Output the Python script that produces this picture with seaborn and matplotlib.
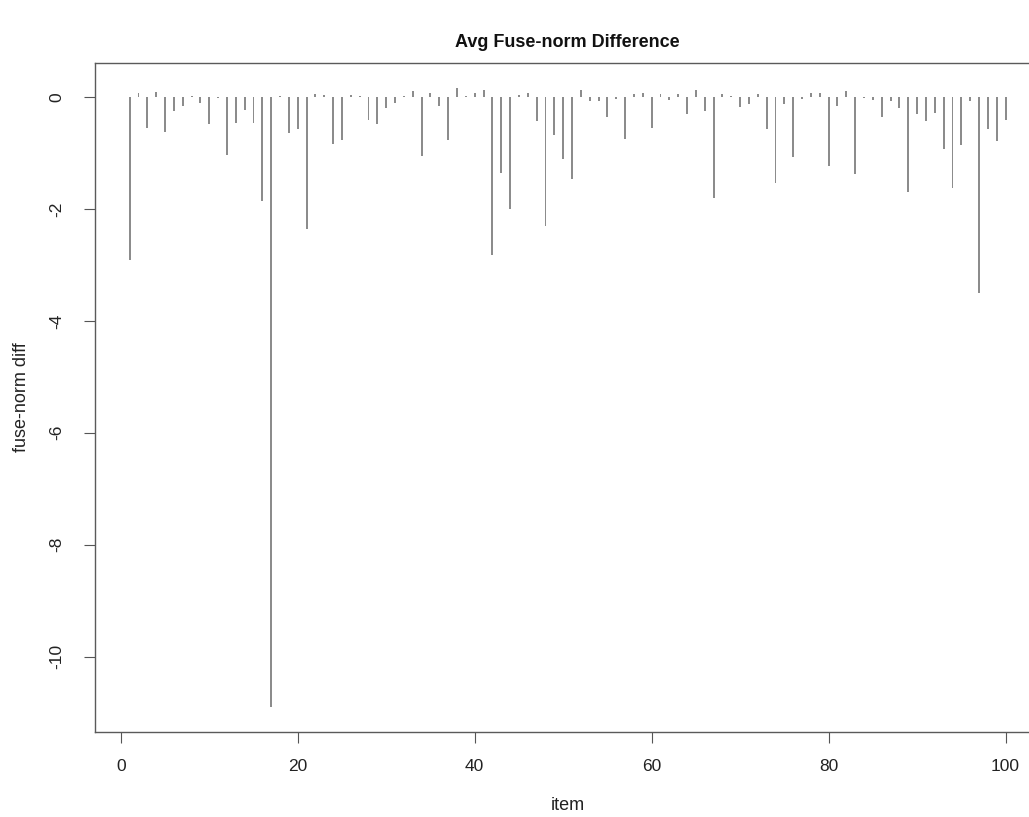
import numpy as np
import pandas as pd
import matplotlib
matplotlib.use("Agg")
import matplotlib.pyplot as plt
import seaborn as sns

# values, one per item
items = list(range(1, 101))
fuse_norm_diff = [
    -2.91, 0.08, -0.55, 0.09, -0.62, -0.25, -0.16, 0.02, -0.11, -0.49,
    -0.01, -1.03, -0.47, -0.24, -0.46, -1.85, -10.90, 0.01, -0.65, -0.58,
    -2.35, 0.05, 0.04, -0.84, -0.76, 0.04, 0.02, -0.41, -0.48, -0.20,
    -0.10, 0.02, 0.11, -1.05, 0.07, -0.16, -0.76, 0.16, 0.01, 0.08,
    0.12, -2.83, -1.35, -2.00, 0.04, 0.07, -0.42, -2.31, -0.67, -1.10,
    -1.46, 0.12, -0.08, -0.08, -0.36, -0.03, -0.75, 0.06, 0.08, -0.55,
    0.05, -0.06, 0.06, -0.31, 0.12, -0.25, -1.81, 0.05, 0.02, -0.18,
    -0.12, 0.05, -0.58, -1.54, -0.12, -1.08, -0.04, 0.08, 0.08, -1.23,
    -0.16, 0.11, -1.38, -0.01, -0.05, -0.36, -0.07, -0.19, -1.69, -0.30,
    -0.42, -0.29, -0.93, -1.62, -0.86, -0.07, -3.50, -0.58, -0.79, -0.41,
]
x_ticks = [0, 20, 40, 60, 80, 100]
y_ticks = [0, -2, -4, -6, -8, -10]

df = pd.DataFrame({"item": items, "diff": fuse_norm_diff})

sns.set_theme(style="white")
plt.rcParams["font.family"] = ["Liberation Sans", "DejaVu Sans"]

fig = plt.figure(figsize=(10.29, 8.17), dpi=100)
ax = fig.add_axes([94.6 / 1029, 1 - 731.7 / 817, 946 / 1029, 668.4 / 817])

sns.barplot(data=df, x="item", y="diff", native_scale=True, width=0.22,
            color="#8c8c8c", linewidth=0, errorbar=None, ax=ax)

# R style axis padding of 4%
xr = max(items) - min(items)
ax.set_xlim(min(items) - 0.04 * xr, max(items) + 0.04 * xr)
yr = max(fuse_norm_diff) - min(fuse_norm_diff)
ax.set_ylim(min(fuse_norm_diff) - 0.04 * yr, max(fuse_norm_diff) + 0.04 * yr)

ax.set_xticks(x_ticks)
ax.set_yticks(y_ticks)
ax.set_yticklabels([str(v) for v in y_ticks], rotation=90, va="center")
ax.tick_params(axis="both", direction="out", length=8, width=0.8,
               color="#555555", labelsize=12.5, labelcolor="#222222",
               left=True, bottom=True)
ax.tick_params(axis="x", pad=12)
ax.tick_params(axis="y", pad=14)
for s in ax.spines.values():
    s.set_color("#5a5a5a")
    s.set_linewidth(1.0)

ax.set_xlabel("item", fontsize=13, color="#222222", labelpad=16)
ax.set_ylabel("fuse-norm diff", fontsize=13, color="#222222", labelpad=14)
ax.set_title("Avg Fuse-norm Difference", fontsize=13, fontweight="bold",
             color="#111111", pad=12)
ax.grid(False)

fig.savefig("out.png", dpi=100)
